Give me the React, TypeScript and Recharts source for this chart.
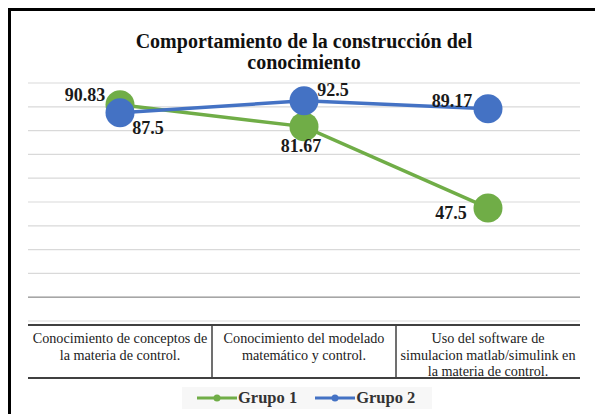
import React from "react";
import { LineChart, Line, XAxis, YAxis, CartesianGrid, LabelList, ReferenceLine } from "recharts";

const categoryLines: string[][] = [
  ["Conocimiento de conceptos de", "la materia de control."],
  ["Conocimiento del modelado", "matemático y control."],
  ["Uso del software de", "simulacion matlab/simulink en", "la materia de control."],
];
const grupo1: number[] = [90.83, 81.67, 47.5];
const grupo2: number[] = [87.5, 92.5, 89.17];
const yTicks: number[] = [10, 20, 30, 40, 50, 60, 70, 80, 90, 100];
const seriesNames = ["Grupo 1", "Grupo 2"];

const GREEN = "#70AD47";
const BLUE = "#4472C4";
const SERIF = "'Liberation Serif', 'Times New Roman', Times, serif";

const data = categoryLines.map((lines, i) => ({
  name: lines.join(" "),
  g1: grupo1[i],
  g2: grupo2[i],
}));

// label placement offsets per series/point (styling only)
const g1Off = [
  [-35, -10],
  [-3, 19],
  [-37, 5],
];
const g2Off = [
  [28, 15],
  [29, -11],
  [-36, -8],
];

const makeLabel = (offs: number[][]) => (props: any) => {
  const { x, y, value, index } = props;
  const [dx, dy] = offs[index] || [0, 0];
  return (
    <text
      x={x + dx}
      y={y + dy}
      textAnchor="middle"
      dominantBaseline="central"
      fontFamily={SERIF}
      fontWeight="bold"
      fontSize={18}
      fill="#1a1a1a"
    >
      {value}
    </text>
  );
};

const BAND = 552 / 3;

const TableTick = (props: any) => {
  const { x, y, index } = props;
  const lines = categoryLines[index] || [];
  const left = x - BAND / 2;
  const right = x + BAND / 2;
  const top = y + 4;
  const bottom = y + 57;
  return (
    <g>
      <line x1={left} x2={right} y1={top} y2={top} stroke="#404040" strokeWidth={2} />
      <line x1={left} x2={right} y1={bottom} y2={bottom} stroke="#404040" strokeWidth={2} />
      {index > 0 && (
        <line x1={left} x2={left} y1={top} y2={bottom} stroke="#404040" strokeWidth={1.5} />
      )}
      {lines.map((ln, i) => (
        <text
          key={i}
          x={x}
          y={top + 18 + i * 16.5}
          textAnchor="middle"
          fontFamily={SERIF}
          fontSize={14.2}
          fill="#222"
        >
          {ln}
        </text>
      ))}
    </g>
  );
};

const LegendItem = ({ color, label }: { color: string; label: string }) => (
  <div style={{ display: "flex", alignItems: "center", marginRight: 18, flexShrink: 0, whiteSpace: "nowrap" }}>
    <svg width={40} height={10} style={{ flexShrink: 0 }}>
      <line x1={0} x2={40} y1={5} y2={5} stroke={color} strokeWidth={3} />
      <circle cx={20} cy={5} r={3.5} fill={color} />
    </svg>
    <span style={{ fontFamily: SERIF, fontWeight: "bold", fontSize: 16.5, color: "#333", marginLeft: 1, whiteSpace: "nowrap" }}>
      {label}
    </span>
  </div>
);

export default function App() {
  return (
    <div style={{ position: "absolute", left: 0, top: 0, width: 595, height: 414, background: "#fff", overflow: "hidden" }}>
      <div
        style={{
          position: "absolute",
          left: 8,
          top: 8,
          width: 600,
          height: 420,
          borderTop: "3px solid #000",
          borderLeft: "3px solid #000",
        }}
      />
      <div
        style={{
          position: "absolute",
          left: 0,
          top: 31,
          width: 608,
          textAlign: "center",
          fontFamily: SERIF,
          fontWeight: "bold",
          fontSize: 20,
          lineHeight: "21px",
          color: "#111",
        }}
      >
        Comportamiento de la construcción del
        <br />
        conocimiento
      </div>
      <div style={{ position: "absolute", left: 0, top: 0 }}>
        <LineChart
          width={595}
          height={414}
          data={data}
          margin={{ top: 83, right: 15, left: 28, bottom: 33 }}
        >
          <CartesianGrid vertical={false} stroke="#d9d9d9" strokeWidth={1.2} />
          <YAxis hide domain={[0, 100]} ticks={yTicks} />
          <XAxis
            dataKey="name"
            scale="band"
            axisLine={false}
            tickLine={false}
            tickSize={0}
            tickMargin={0}
            interval={0}
            height={60}
            tick={<TableTick />}
          />
          <ReferenceLine y={10} stroke="#a6a6a6" strokeWidth={1.5} />
          <Line
            dataKey="g1"
            name={seriesNames[0]}
            stroke={GREEN}
            strokeWidth={3.5}
            dot={{ r: 14.5, fill: GREEN, stroke: GREEN, strokeWidth: 0 }}
            activeDot={false}
            isAnimationActive={false}
          >
            <LabelList dataKey="g1" content={makeLabel(g1Off)} />
          </Line>
          <Line
            dataKey="g2"
            name={seriesNames[1]}
            stroke={BLUE}
            strokeWidth={3.5}
            dot={{ r: 14.5, fill: BLUE, stroke: BLUE, strokeWidth: 0 }}
            activeDot={false}
            isAnimationActive={false}
          >
            <LabelList dataKey="g2" content={makeLabel(g2Off)} />
          </Line>
        </LineChart>
      </div>
      <div
        style={{
          position: "absolute",
          left: 182,
          top: 387,
          width: 250,
          height: 22,
          background: "#f7f7f7",
          display: "flex",
          flexWrap: "nowrap",
          justifyContent: "flex-start",
          alignItems: "center",
          paddingLeft: 15,
          boxSizing: "border-box",
        }}
      >
        <LegendItem color={GREEN} label={seriesNames[0]} />
        <LegendItem color={BLUE} label={seriesNames[1]} />
      </div>
    </div>
  );
}
